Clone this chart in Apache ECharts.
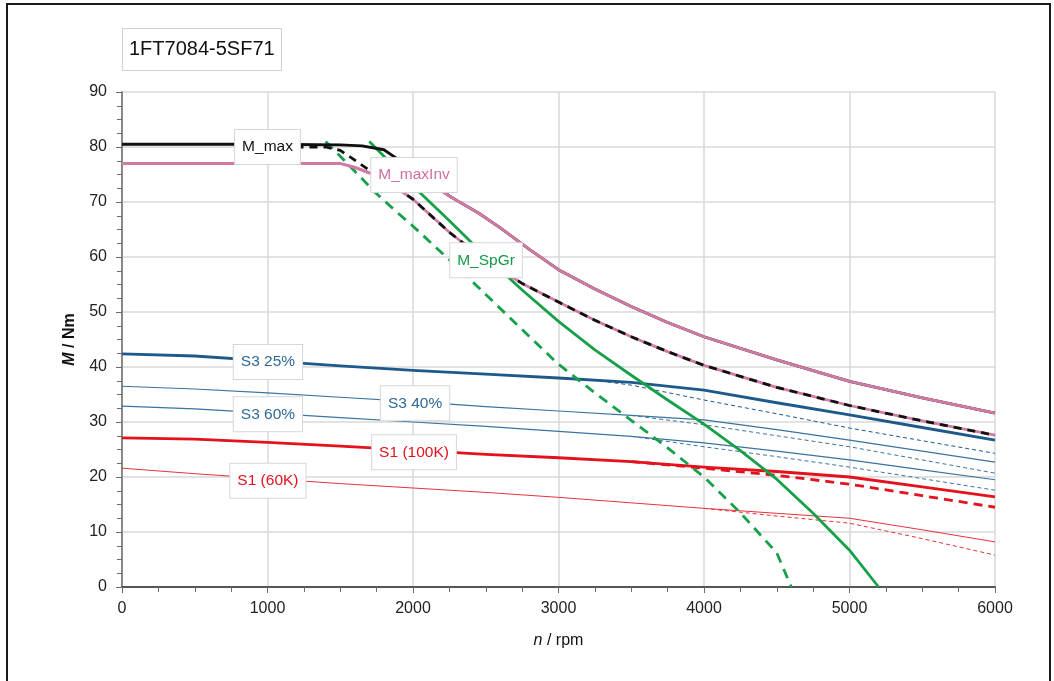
<!DOCTYPE html>
<html><head><meta charset="utf-8">
<script src="https://cdn.jsdelivr.net/npm/echarts@6/dist/echarts.min.js"></script>
<style>html,body{margin:0;padding:0;background:#fff}#c{width:1054px;height:681px}</style>
</head><body><div id="c"></div>
<script>
// ---- data (speed n in rpm, torque M in Nm) ----
const mmaxN  = [0, 500, 1000, 1500, 1650, 1800, 1900, 2000, 2100, 2200, 2250, 2300, 2450, 2600, 2800, 3000, 3250, 3500, 3750, 4000, 4500, 5000, 5500, 6000];
const mmaxM  = [80.5, 80.5, 80.5, 80.4, 80.2, 79.5, 77.7, 75.8, 73.8, 72.0, 71.1, 70.3, 68.0, 65.3, 61.4, 57.7, 54.2, 51.0, 48.1, 45.5, 41.3, 37.4, 34.4, 31.6];
const mmaxDN = [1000, 1400, 1500, 1600, 1700, 1800, 1900, 2000, 2250, 2500, 2750, 3000, 3250, 3500, 3750, 4000, 4500, 5000, 5500, 6000];
const mmaxDM = [80.0, 80.0, 79.4, 77.6, 75.8, 73.9, 72.3, 70.5, 64.5, 59.3, 55.2, 51.8, 48.5, 45.5, 42.8, 40.3, 36.3, 33.0, 30.2, 27.6];
const minvN  = [0, 500, 1000, 1500, 1600, 1700, 1850, 2000, 2150, 2250, 2300, 2450, 2600, 2800, 3000, 3250, 3500, 3750, 4000, 4500, 5000, 5500, 6000];
const minvM  = [77, 77, 77, 77, 76.3, 75.3, 74.6, 74.0, 72.8, 71.1, 70.3, 68.0, 65.3, 61.4, 57.7, 54.2, 51.0, 48.1, 45.5, 41.3, 37.4, 34.4, 31.6];
const minv2N = [0, 500, 1000, 1500, 1600, 1700, 1800, 1900, 2000, 2250, 2500, 2750, 3000, 3250, 3500, 3750, 4000, 4500, 5000, 5500, 6000];
const minv2M = [77, 77, 77, 77, 76.3, 75.3, 73.9, 72.3, 70.5, 64.5, 59.3, 55.2, 51.8, 48.5, 45.5, 42.8, 40.3, 36.3, 33.0, 30.2, 27.6];
const spgrN  = [1700, 1800, 1900, 2000, 2250, 2500, 2750, 3000, 3250, 3500, 3750, 4000, 4250, 4500, 4750, 5000, 5200];
const spgrM  = [81.0, 78.3, 75.6, 72.9, 66.6, 60.1, 54.0, 48.3, 43.1, 38.5, 34.0, 29.6, 24.8, 19.6, 13.4, 6.7, 0];
const spgrDN = [1400, 1500, 1600, 1750, 1900, 2000, 2250, 2500, 2750, 3000, 3250, 3500, 3750, 4000, 4250, 4500, 4600];
const spgrDM = [81.0, 78.3, 75.6, 71.5, 67.9, 65.6, 59.5, 53.2, 46.8, 40.5, 35.3, 30.3, 25.3, 20.0, 13.5, 6.2, 0];
const sN     = [0, 500, 1000, 1500, 2000, 2500, 3000, 3500, 4000, 4500, 5000, 5500, 6000];
const s325M  = [42.4, 42.0, 41.1, 40.2, 39.4, 38.7, 38.0, 37.2, 35.8, 33.5, 31.3, 29.0, 26.7];
const s340M  = [36.5, 36.0, 35.3, 34.5, 33.7, 32.8, 32.0, 31.2, 30.4, 28.6, 26.7, 24.7, 22.7];
const s360M  = [32.9, 32.4, 31.6, 30.8, 30.0, 29.2, 28.3, 27.4, 26.2, 24.7, 23.1, 21.3, 19.5];
const s1100M = [27.1, 26.9, 26.3, 25.6, 24.9, 24.1, 23.5, 22.8, 21.8, 21.0, 20.0, 18.2, 16.4];
const s160M  = [21.6, 20.6, 19.7, 18.8, 18.0, 17.2, 16.3, 15.3, 14.3, 13.4, 12.5, 10.4, 8.2];
const s325DN = [3000, 3250, 3500, 4000, 4500, 5000, 5500, 6000];
const s325DM = [38.0, 37.6, 36.7, 34.0, 31.5, 28.9, 26.6, 24.3];
const dN     = [3500, 4000, 4500, 5000, 5500, 6000];
const s340DM = [31.2, 29.5, 27.5, 25.5, 23.1, 20.7];
const s360DM = [27.4, 25.5, 23.7, 21.8, 19.7, 17.6];
const s1100DM= [22.8, 21.6, 20.3, 18.7, 16.6, 14.5];
const s160DN = [4000, 4500, 5000, 5500, 6000];
const s160DM = [14.3, 12.9, 11.6, 8.8, 5.8];

const labelNames = ['M_max', 'M_maxInv', 'M_SpGr', 'S3 25%', 'S3 40%', 'S3 60%', 'S1 (100K)', 'S1 (60K)'];
const labelN     = [1000, 2007, 2502, 1003, 2014, 1003, 2007, 1003];
const labelM     = [80.0, 74.9, 59.4, 40.9, 33.4, 31.4, 24.5, 19.3];

const xTicks = [0, 1000, 2000, 3000, 4000, 5000, 6000];
const yTicks = [0, 10, 20, 30, 40, 50, 60, 70, 80, 90];

// ---- styles ----
const FONT = 'Liberation Sans, Arial, Helvetica, sans-serif';
const C = {black:'#111111', pink:'#d27aa6', green:'#16a04a', blueT:'#1d5a8b', blue:'#3a73a0', red:'#e3121c', redT:'#e8323a'};
const labelColors = [C.black, '#d070a0', '#129a46', '#2f6a96', '#2f6a96', '#2f6a96', '#e3121c', '#e3121c'];

const pts = (xs, ys) => xs.map((x, i) => [x, ys[i]]);
function line(name, xs, ys, color, width, type, z) {
  return {type:'line', name, data:pts(xs, ys), symbol:'none', silent:true, z,
    lineStyle:{color, width, type, cap:'butt', join:'round'}};
}

const series = [
  line('S1 (60K) dashed', s160DN, s160DM, C.redT, 1, [4,3], 2),
  line('S1 (60K)', sN, s160M, C.redT, 1, 'solid', 2),
  line('S1 (100K) dashed', dN, s1100DM, C.red, 2.8, [9,6], 2),
  line('S1 (100K)', sN, s1100M, C.red, 2.8, 'solid', 2),
  line('S3 60% dashed', dN, s360DM, C.blue, 1, [4,3], 2),
  line('S3 60%', sN, s360M, C.blue, 1.2, 'solid', 2),
  line('S3 40% dashed', dN, s340DM, C.blue, 1, [4,3], 2),
  line('S3 40%', sN, s340M, C.blue, 1.2, 'solid', 2),
  line('S3 25% dashed', s325DN, s325DM, C.blueT, 1, [4,3], 2),
  line('S3 25%', sN, s325M, C.blueT, 2.8, 'solid', 2),
  line('M_SpGr dashed', spgrDN, spgrDM, C.green, 2.8, [10,7], 3),
  line('M_SpGr', spgrN, spgrM, C.green, 2.8, 'solid', 3),
  line('M_maxInv 2', minv2N, minv2M, C.pink, 2.8, 'solid', 4),
  line('M_max dashed', mmaxDN, mmaxDM, C.black, 2.8, [8,6], 5),
  line('M_max', mmaxN, mmaxM, C.black, 2.8, 'solid', 5),
  line('M_maxInv', minvN, minvM, C.pink, 2.8, 'solid', 6),
  {type:'scatter', name:'labels', symbolSize:0, silent:true, z:20,
   itemStyle:{opacity:1},
   emphasis:{disabled:true},
   data: labelNames.map((n, i) => ({name:n, value:[labelN[i], labelM[i]],
     label:{color: labelColors[i]}})),
   label:{show:true, position:'inside', formatter:'{b}', backgroundColor:'#ffffff',
     borderColor:'#d6d6d6', borderWidth:1, padding:[9,7], fontSize:15.5, fontFamily:FONT, opacity:1}}
];

const axisCommon = {
  axisTick:{show:true, inside:false, length:6, lineStyle:{color:'#6b6b6b', width:1}},
  minorTick:{show:true, splitNumber:4, length:5, lineStyle:{color:'#6b6b6b', width:1}},
  splitLine:{show:true, lineStyle:{color:'#d9d9d9', width:1.5}},
};

const chart = echarts.init(document.getElementById('c'), null, {renderer:'canvas'});
chart.setOption({
  animation:false,
  backgroundColor:'#ffffff',
  textStyle:{fontFamily:FONT},
  title:{text:'1FT7084-5SF71', left:122, top:28, padding:[11,7,12,7], borderColor:'#d0d0d0', borderWidth:1,
    textStyle:{fontSize:20, fontWeight:'normal', color:'#111', fontFamily:FONT}},
  graphic:[{type:'rect', silent:true, z:100, shape:{x:7, y:4, width:1043, height:740},
    style:{fill:'none', stroke:'#1a1a1a', lineWidth:2}}],
  grid:{left:122, right:59, top:92, bottom:94, containLabel:false},
  xAxis:Object.assign({type:'value', min:xTicks[0], max:xTicks[xTicks.length-1], interval:xTicks[1]-xTicks[0],
    name:'{i|n} / rpm', nameLocation:'middle', nameGap:46,
    nameTextStyle:{fontSize:16, color:'#111', fontFamily:FONT, rich:{i:{fontStyle:'italic', fontSize:16, color:'#111', fontFamily:FONT}}},
    axisLine:{show:true, onZero:false, lineStyle:{color:'#555', width:2}},
    axisLabel:{fontSize:16, color:'#222', margin:14, fontFamily:FONT, formatter:v => String(v)}}, axisCommon),
  yAxis:Object.assign({type:'value', min:yTicks[0], max:yTicks[yTicks.length-1], interval:yTicks[1]-yTicks[0],
    name:'{i|M} / Nm', nameLocation:'middle', nameGap:44, nameRotate:90,
    nameTextStyle:{fontSize:16, fontWeight:'bold', color:'#111', fontFamily:FONT, rich:{i:{fontStyle:'italic', fontWeight:'bold', fontSize:16, color:'#111', fontFamily:FONT}}},
    axisLine:{show:true, onZero:false, lineStyle:{color:'#6b6b6b', width:1.5}},
    axisLabel:{fontSize:16, color:'#222', margin:15, fontFamily:FONT, formatter:v => String(v)}}, axisCommon),
  series
});
</script></body></html>
